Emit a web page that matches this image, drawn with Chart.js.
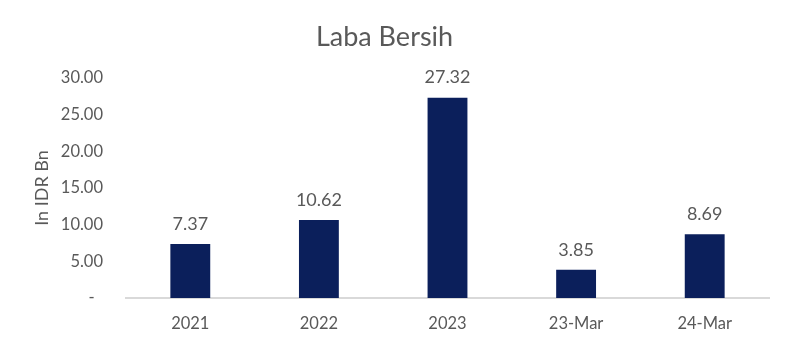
<!DOCTYPE html>
<html>
<head>
<meta charset="utf-8">
<script src="https://cdn.jsdelivr.net/npm/chart.js@4"></script>
<style>
  body { margin: 0; background: #fff; }
</style>
</head>
<body>
<canvas id="labaChart" width="792" height="346"></canvas>
<script>
// Data
const categories = ['2021', '2022', '2023', '23-Mar', '24-Mar'];
const labaValues = [7.37, 10.62, 27.32, 3.85, 8.69];
const yTicks = [0, 5, 10, 15, 20, 25, 30];

const textColor = '#595959';
const fontFamily = 'Lato, "Open Sans", sans-serif';

// value labels above each bar
const barLabels = {
    id: 'barLabels',
    afterDatasetsDraw(chart) {
        const ctx = chart.ctx;
        const meta = chart.getDatasetMeta(0);
        ctx.save();
        ctx.font = '18px ' + fontFamily;
        ctx.fillStyle = textColor;
        ctx.textAlign = 'center';
        ctx.textBaseline = 'middle';
        meta.data.forEach((bar, i) => {
            ctx.fillText(labaValues[i].toFixed(2), bar.x, bar.y - 20);
        });
        ctx.restore();
    }
};

const ctx = document.getElementById('labaChart').getContext('2d');
const labaChart = new Chart(ctx, {
    type: 'bar',
    data: {
        labels: categories,
        datasets: [{
            label: 'Laba Bersih',
            data: labaValues,
            backgroundColor: '#0b1f5b',
            borderWidth: 0,
            categoryPercentage: 1,
            barPercentage: 0.31
        }]
    },
    options: {
        responsive: false,
        animation: false,
        layout: {
            padding: { top: 0, left: 0, right: 23, bottom: 0 }
        },
        scales: {
            x: {
                grid: { display: false, drawTicks: false },
                border: { display: true, color: '#d9d9d9', width: 2 },
                ticks: {
                    color: textColor,
                    font: { family: fontFamily, size: 16.5 },
                    padding: 16
                },
                afterFit(scale) { scale.height = 48; }
            },
            y: {
                min: 0,
                max: 30,
                grid: { display: false, drawTicks: false },
                border: { display: false },
                afterBuildTicks(scale) {
                    scale.ticks = yTicks.map(v => ({ value: v }));
                },
                ticks: {
                    color: textColor,
                    font: { family: fontFamily, size: 16.5 },
                    padding: 23,
                    callback: v => v === 0 ? '-  ' : v.toFixed(2)
                },
                title: {
                    display: true,
                    text: 'In IDR Bn',
                    color: textColor,
                    font: { family: fontFamily, size: 18 },
                    padding: { top: 31, bottom: 0 }
                },
                afterFit(scale) { scale.width = 126; }
            }
        },
        plugins: {
            legend: { display: false },
            tooltip: { enabled: false },
            title: {
                display: true,
                text: 'Laba Bersih',
                color: textColor,
                font: { family: fontFamily, size: 27, weight: 'normal' },
                padding: { top: 21, bottom: 24.6 }
            }
        }
    },
    plugins: [barLabels]
});
</script>
</body>
</html>
